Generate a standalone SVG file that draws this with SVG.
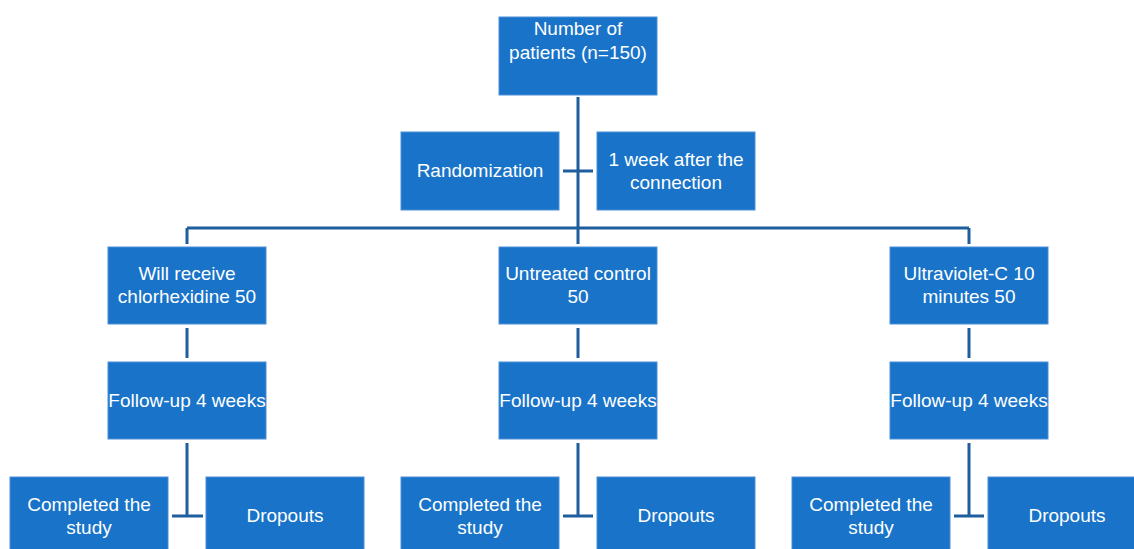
<svg xmlns="http://www.w3.org/2000/svg" width="1134" height="549" viewBox="0 0 1134 549">
<style>
.box{fill:#1873C9;stroke:#4D90D8;stroke-width:1}
.t{font-family:"Liberation Sans",Arial,sans-serif;font-size:19px;fill:#FFFFFF;text-anchor:middle}
.ln{stroke:#1E5E9E;stroke-width:3;fill:none}
</style>
<rect width="1134" height="549" fill="#FFFFFF"/>
<g id="connectors">
<path class="ln" d="M578 97 V244 M563 171 H593 M187 228 H969 M187 228 V244 M969 228 V244"/>
<path class="ln" d="M187 328 V358 M578 328 V358 M969 328 V358"/>
<path class="ln" d="M187 443 V516 M172 516 H203 M578 443 V516 M563 516 H593 M969 443 V516 M954 516 H984"/>
</g>
<g id="n_total"><rect class="box" x="499" y="17" width="158" height="78"/><text class="t" x="578" y="35">Number of</text><text class="t" x="578" y="59">patients (n=150)</text></g>
<g id="n_random"><rect class="box" x="401" y="132" width="158" height="78"/><text class="t" x="480" y="177">Randomization</text></g>
<g id="n_week"><rect class="box" x="597" y="132" width="158" height="78"/><text class="t" x="676" y="166">1 week after the</text><text class="t" x="676" y="189">connection</text></g>
<g id="n_chx"><rect class="box" x="108" y="247" width="158" height="77"/><text class="t" x="187" y="280">Will receive</text><text class="t" x="187" y="303">chlorhexidine 50</text></g>
<g id="n_ctrl"><rect class="box" x="499" y="247" width="158" height="77"/><text class="t" x="578" y="280">Untreated control</text><text class="t" x="578" y="303">50</text></g>
<g id="n_uvc"><rect class="box" x="890" y="247" width="158" height="77"/><text class="t" x="969" y="280">Ultraviolet-C 10</text><text class="t" x="969" y="303">minutes 50</text></g>
<g id="n_fu1"><rect class="box" x="108" y="362" width="158" height="77"/><text class="t" x="187" y="407">Follow-up 4 weeks</text></g>
<g id="n_fu2"><rect class="box" x="499" y="362" width="158" height="77"/><text class="t" x="578" y="407">Follow-up 4 weeks</text></g>
<g id="n_fu3"><rect class="box" x="890" y="362" width="158" height="77"/><text class="t" x="969" y="407">Follow-up 4 weeks</text></g>
<g id="n_comp1"><rect class="box" x="10" y="477" width="158" height="78"/><text class="t" x="89" y="511">Completed the</text><text class="t" x="89" y="534">study</text></g>
<g id="n_drop1"><rect class="box" x="206" y="477" width="158" height="78"/><text class="t" x="285" y="522">Dropouts</text></g>
<g id="n_comp2"><rect class="box" x="401" y="477" width="158" height="78"/><text class="t" x="480" y="511">Completed the</text><text class="t" x="480" y="534">study</text></g>
<g id="n_drop2"><rect class="box" x="597" y="477" width="158" height="78"/><text class="t" x="676" y="522">Dropouts</text></g>
<g id="n_comp3"><rect class="box" x="792" y="477" width="158" height="78"/><text class="t" x="871" y="511">Completed the</text><text class="t" x="871" y="534">study</text></g>
<g id="n_drop3"><rect class="box" x="988" y="477" width="158" height="78"/><text class="t" x="1067" y="522">Dropouts</text></g>
</svg>
